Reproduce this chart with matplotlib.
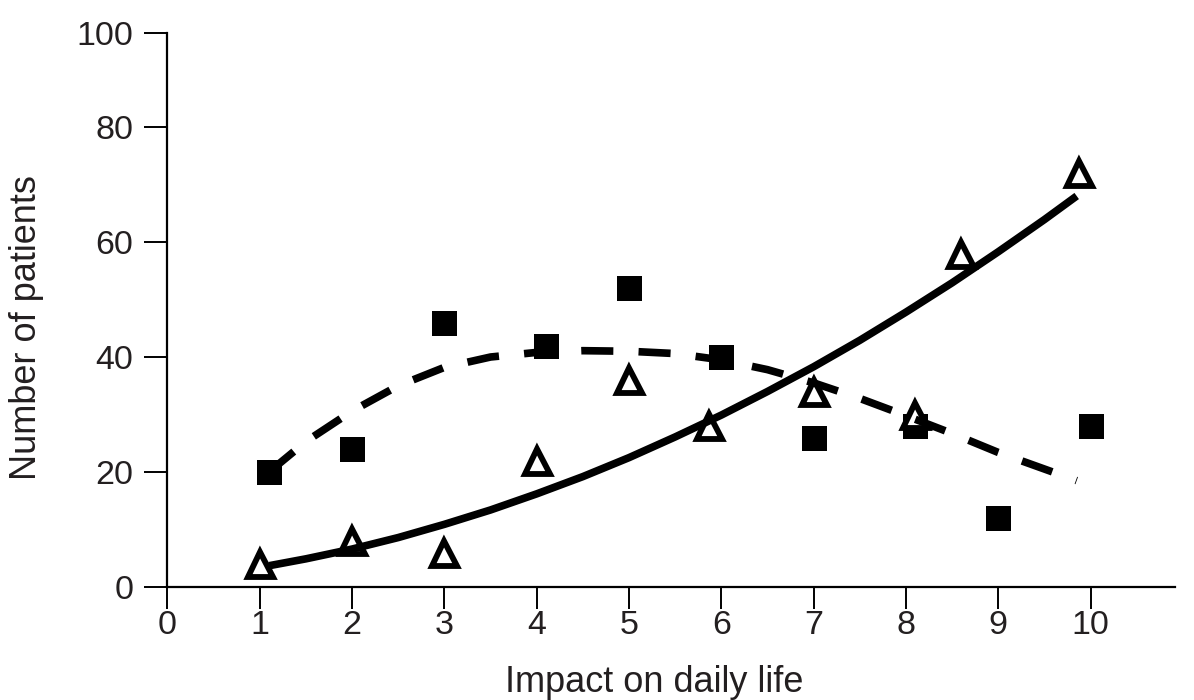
import matplotlib
matplotlib.use("Agg")
import matplotlib.pyplot as plt

plt.rcParams['font.family'] = ['Liberation Sans', 'DejaVu Sans']

# Observed data points
sq_x = [1.1, 2, 3, 4.1, 5, 6, 7, 8.1, 9, 10]
sq_y = [20, 24, 46, 42, 52, 40, 26, 28, 12, 28]
tri_x = [1, 2, 3, 4, 5, 5.87, 7, 8.1, 8.6, 9.87]
tri_y = [4, 8, 6, 22, 36, 28, 34, 30, 58, 72]

# Trend curves
solid_x = [1.1, 1.5, 2, 2.5, 3, 3.5, 4, 4.5, 5, 5.5, 6, 6.5, 7, 7.5, 8, 8.5, 9, 9.5, 9.85]
solid_y = [3.7, 4.9, 6.6, 8.6, 10.9, 13.4, 16.2, 19.2, 22.5, 26.1, 29.9, 34.0, 38.3, 42.9, 47.8, 52.9, 58.3, 63.9, 68.0]
dash_x = [1.1, 1.5, 2, 2.5, 3, 3.5, 4, 4.5, 5, 5.5, 6, 6.5, 7, 7.5, 8, 8.5, 9, 9.85]
dash_y = [20, 25.3, 30.6, 35, 38.2, 40, 40.8, 41.1, 41, 40.6, 39.5, 37.8, 35.5, 32.8, 29.8, 26.7, 23.4, 18.5]

xticks = list(range(0, 11))
ytick_labels = ["0", "20", "40", "60", "80", "100"]
ytick_vals = [0, 20, 40, 60, 80, 96.35]

txt = '#231f20'

fig = plt.figure(figsize=(11.94, 7.0), dpi=100)
ax = fig.add_axes([167.5/1194, 1-587/700, (1175-167.5)/1194, (587-33)/700])

ax.plot(sq_x, sq_y, linestyle='none', marker='s', markersize=18,
        color='black', markeredgewidth=0, zorder=3)
ax.plot(tri_x, tri_y, linestyle='none', marker='^', markersize=18,
        markerfacecolor='white', markeredgecolor='black', markeredgewidth=4.2, zorder=4)
ax.plot(solid_x, solid_y, color='black', linewidth=5.5, solid_capstyle='butt', zorder=5)
ax.plot(dash_x, dash_y, color='black', linewidth=5.5, linestyle=(0, (4.2, 3.3)),
        dash_capstyle='butt', zorder=5)

ax.set_xlim(0, 10.915)
ax.set_ylim(0, 96.35)
ax.set_xticks(xticks)
ax.set_xticklabels([str(v) for v in xticks])
ax.set_yticks(ytick_vals)
ax.set_yticklabels(ytick_labels)

for s in ['top', 'right']:
    ax.spines[s].set_visible(False)
for s in ['left', 'bottom']:
    ax.spines[s].set_linewidth(1.6)
    ax.spines[s].set_color('black')

ax.tick_params(axis='x', direction='out', length=15.5, width=1.4, pad=1,
               labelsize=24.5, labelcolor=txt, colors='black')
ax.tick_params(axis='y', direction='out', length=16.5, width=1.4, pad=8,
               labelsize=24.5, labelcolor=txt, colors='black')
for lab in ax.get_xticklabels() + ax.get_yticklabels():
    lab.set_color(txt)

ax.set_xlabel('Impact on daily life', fontsize=26, color=txt)
ax.xaxis.set_label_coords(0.483, -0.173)
ax.xaxis.label.set_verticalalignment('center')
ax.set_ylabel('Number of patients', fontsize=26, color=txt)
ax.yaxis.set_label_coords(-0.1404, 0.469)
ax.yaxis.label.set_verticalalignment('center')

fig.savefig('out.png', dpi=100)
